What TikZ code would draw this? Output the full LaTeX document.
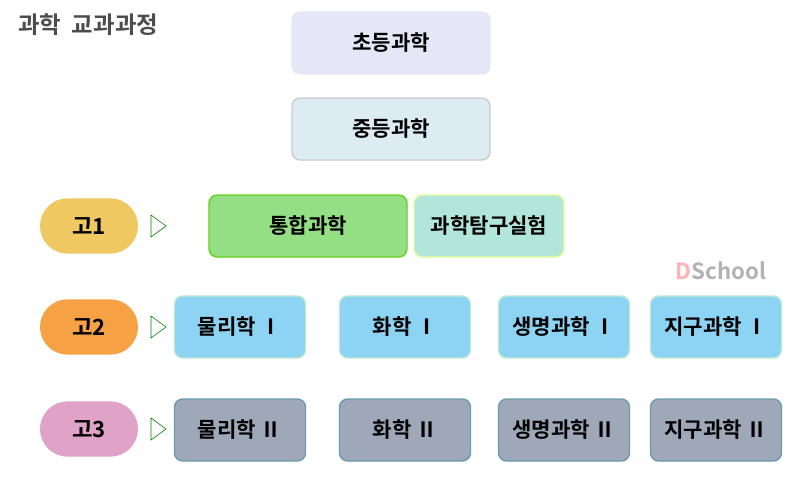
\documentclass[tikz,border=0pt]{standalone}
\usepackage{fontspec}
\setmainfont{Noto Sans CJK KR}[BoldFont={* Bold}]
\usetikzlibrary{positioning}
\definecolor{lav}{HTML}{E6E6F6}
\definecolor{midc}{HTML}{DDEBF3}
\definecolor{goA}{HTML}{F0C862}
\definecolor{goB}{HTML}{F6A244}
\definecolor{goC}{HTML}{E0A2C6}
\definecolor{tong}{HTML}{94DF84}
\definecolor{tam}{HTML}{B3E6DB}
\definecolor{sky}{HTML}{8DD4F4}
\definecolor{slate}{HTML}{9FA8B8}
\definecolor{slateb}{HTML}{6A9AB0}
\tikzset{
  subj/.style={rounded corners=7pt, minimum width=3.93cm, minimum height=1.86cm,
    line width=1.2pt, font=\fontsize{18}{20}\selectfont\bfseries},
  grade/.style={rounded corners=0.83cm, minimum width=2.94cm, minimum height=1.66cm,
    draw=none, font=\fontsize{19}{21}\selectfont\bfseries},
  pointer/.style={draw=green!50!black, fill=white, line width=0.5pt}
}
\begin{document}
\begin{tikzpicture}[x=0.03cm,y=-0.03cm]
  \useasboundingbox (0,0) rectangle (789,477);
  % titulo
  \node[anchor=west, text=black!70, font=\fontsize{20}{22}\selectfont\bfseries] (titulo) at (14,25) {과학\ \ 교과과정};
  % primaria y secundaria
  \node[subj, fill=lav, draw=lav, minimum width=5.94cm] (cho) at (391,43) {초등과학};
  \node[subj, fill=midc, draw=black!20, minimum width=5.94cm] (jung) at (391,129) {중등과학};
  % grados
  \node[grade, fill=goA] (g1) at (89,226) {고1};
  \node[grade, fill=goB] (g2) at (89,327) {고2};
  \node[grade, fill=goC] (g3) at (89,429) {고3};
  \foreach \y in {226,327,429}
    \draw[pointer] (151,\y-11) -- (166,\y) -- (151,\y+11) -- cycle;
  % 고1
  \node[subj, fill=tong, draw=green!60!yellow!80!black!90, minimum width=5.94cm] (tong) at (308,226) {통합과학};
  \node[subj, fill=tam, draw=green!30!yellow!40, minimum width=4.5cm] (tam) at (489,226) {과학탐구실험};
  % 고2 y 고3
  \foreach \x/\t [count=\i] in {240/물리학, 405/화학, 564/생명과학, 716/지구과학}{
    \node[subj, fill=sky, draw=cyan!20!green!25] (a\i) at (\x,327) {\t\ Ⅰ};
    \node[subj, fill=slate, draw=slateb] (b\i) at (\x,430) {\t\ Ⅱ};
  }
  % marca
  \node[font=\fontsize{19}{21}\selectfont\bfseries, inner sep=0pt] (marca) at (721,271)
    {\textcolor{red!30}{D}\textcolor{black!30}{School}};
\end{tikzpicture}
\end{document}
